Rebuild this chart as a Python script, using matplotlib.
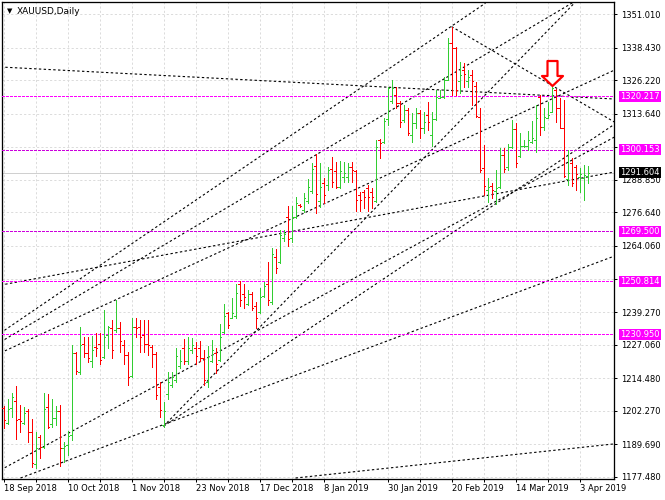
import matplotlib
matplotlib.use('Agg')
import matplotlib.pyplot as plt
import numpy as np
from matplotlib.collections import LineCollection
from matplotlib.path import Path
from matplotlib import transforms

# daily OHLC, XAUUSD, 18 Sep 2018 .. 5 Apr 2019
opens = [1203.2, 1197.9, 1203.2, 1205.9, 1199.2, 1197.9, 1202.2, 1194.3, 1182.3, 1192.3,
         1188.8, 1203.6, 1197.5, 1199.7, 1202.3, 1188.2, 1189.4, 1193.2, 1223.8, 1216.9,
         1227.2, 1223.8, 1220.9, 1226.3, 1227.5, 1222.3, 1230.7, 1233.2, 1232.5, 1233.4,
         1226.9, 1223.2, 1215.4, 1233.8, 1233.8, 1230.7, 1227.5, 1226.3, 1223.5, 1211.3,
         1196.9, 1208.5, 1212.0, 1214.0, 1219.0, 1226.0, 1221.0, 1225.0, 1226.0, 1226.0,
         1222.0, 1213.0, 1221.0, 1224.0, 1221.5, 1232.0, 1239.0, 1237.0, 1238.0, 1250.0,
         1246.0, 1242.5, 1246.0, 1241.5, 1239.5, 1245.5, 1250.0, 1243.0, 1260.0, 1258.0,
         1267.0, 1275.0, 1267.0, 1275.0, 1279.5, 1277.5, 1281.0, 1284.5, 1294.0, 1281.0,
         1287.5, 1287.0, 1293.0, 1292.0, 1286.1, 1290.0, 1290.0, 1293.8, 1292.0, 1283.2,
         1284.4, 1285.7, 1284.4, 1280.9, 1303.8, 1303.2, 1311.7, 1318.4, 1320.7, 1317.5,
         1311.3, 1315.0, 1305.7, 1310.0, 1313.8, 1308.2, 1313.2, 1305.7, 1311.7, 1319.7,
         1320.0, 1326.3, 1340.0, 1338.1, 1326.0, 1330.0, 1326.0, 1328.0, 1324.0, 1312.5,
         1293.2, 1285.0, 1286.5, 1284.5, 1286.3, 1298.2, 1293.5, 1301.3, 1307.8, 1297.7,
         1301.5, 1301.5, 1303.2, 1303.8, 1320.0, 1308.8, 1312.0, 1314.4, 1322.5, 1315.7,
         1308.2, 1289.0, 1295.0, 1293.8, 1290.0, 1289.5, 1290.3]
highs = [1204.0, 1206.9, 1209.0, 1211.7, 1204.4, 1203.8, 1202.9, 1199.2, 1194.4, 1193.2,
         1208.8, 1208.5, 1206.9, 1204.2, 1204.4, 1190.7, 1194.8, 1226.9, 1224.4, 1233.8,
         1230.0, 1230.0, 1230.3, 1231.3, 1231.3, 1240.0, 1234.0, 1236.3, 1243.8, 1235.7,
         1228.8, 1224.4, 1236.9, 1236.9, 1236.3, 1236.3, 1236.3, 1226.9, 1224.4, 1213.2,
         1205.7, 1216.9, 1216.9, 1225.7, 1225.0, 1229.2, 1230.0, 1229.4, 1228.2, 1228.4,
         1225.0, 1226.5, 1229.0, 1225.7, 1235.0, 1242.5, 1239.4, 1244.4, 1250.0, 1250.9,
         1249.7, 1247.5, 1246.9, 1243.2, 1248.2, 1250.7, 1258.2, 1263.2, 1262.8, 1270.0,
         1270.0, 1279.0, 1279.0, 1282.3, 1279.7, 1284.0, 1289.0, 1295.0, 1298.5, 1295.0,
         1289.4, 1293.8, 1297.3, 1295.7, 1296.0, 1295.7, 1295.1, 1295.7, 1292.6, 1284.4,
         1285.1, 1286.9, 1285.7, 1303.8, 1304.2, 1311.9, 1323.8, 1326.3, 1323.8, 1318.4,
         1316.9, 1315.7, 1313.8, 1315.7, 1315.0, 1314.4, 1317.9, 1314.4, 1322.5, 1322.5,
         1327.5, 1341.9, 1346.3, 1338.8, 1333.1, 1332.5, 1330.0, 1330.0, 1325.7, 1315.7,
         1301.9, 1289.7, 1287.5, 1292.5, 1300.7, 1300.7, 1302.3, 1311.3, 1310.3, 1306.5,
         1303.8, 1307.3, 1311.0, 1316.9, 1320.7, 1315.7, 1318.2, 1324.0, 1322.8, 1319.4,
         1318.8, 1300.0, 1296.9, 1294.4, 1293.2, 1294.4, 1294.0]
lows = [1195.9, 1197.5, 1200.0, 1191.7, 1194.4, 1197.2, 1190.7, 1181.3, 1180.9, 1184.7,
        1188.4, 1195.7, 1196.3, 1196.9, 1181.7, 1183.2, 1185.7, 1191.3, 1215.9, 1215.9,
        1222.5, 1220.6, 1218.8, 1222.8, 1219.8, 1221.9, 1225.7, 1221.9, 1231.9, 1224.4,
        1220.0, 1211.9, 1215.0, 1230.0, 1224.4, 1224.4, 1223.2, 1218.8, 1206.9, 1200.0,
        1196.3, 1206.9, 1211.3, 1213.2, 1218.2, 1220.0, 1220.0, 1223.8, 1220.0, 1221.0,
        1212.0, 1211.3, 1220.7, 1216.6, 1221.0, 1231.3, 1233.5, 1236.9, 1236.9, 1241.7,
        1240.7, 1241.9, 1240.0, 1233.2, 1238.8, 1245.0, 1241.9, 1242.5, 1253.8, 1257.5,
        1266.0, 1264.0, 1265.7, 1274.4, 1278.5, 1276.9, 1280.0, 1283.8, 1276.5, 1278.8,
        1280.1, 1285.1, 1286.1, 1285.7, 1285.7, 1288.2, 1288.2, 1288.2, 1277.0, 1277.0,
        1278.2, 1277.0, 1278.2, 1280.7, 1296.9, 1302.6, 1309.4, 1317.5, 1315.7, 1308.8,
        1310.7, 1305.7, 1303.2, 1308.2, 1304.4, 1306.3, 1307.5, 1301.7, 1311.3, 1319.4,
        1319.4, 1326.3, 1320.7, 1320.7, 1321.3, 1323.8, 1323.5, 1316.9, 1312.5, 1291.9,
        1283.2, 1280.7, 1281.9, 1279.8, 1285.7, 1291.9, 1292.5, 1300.7, 1293.8, 1297.5,
        1301.3, 1300.0, 1302.5, 1299.4, 1305.7, 1307.5, 1311.9, 1314.4, 1310.7, 1308.2,
        1290.0, 1286.9, 1286.5, 1285.0, 1284.4, 1281.3, 1287.5]
closes = [1198.8, 1202.9, 1207.3, 1198.8, 1198.4, 1201.3, 1194.3, 1182.9, 1188.2, 1188.8,
          1202.9, 1196.3, 1199.7, 1202.2, 1188.2, 1189.2, 1192.9, 1223.8, 1217.2, 1226.9,
          1223.8, 1222.2, 1225.0, 1225.7, 1221.3, 1230.0, 1233.8, 1225.0, 1233.2, 1228.4,
          1223.2, 1215.0, 1233.8, 1233.2, 1230.0, 1227.2, 1226.9, 1223.5, 1208.4, 1202.6,
          1202.2, 1213.0, 1215.0, 1223.0, 1221.0, 1221.0, 1226.0, 1227.0, 1223.0, 1222.0,
          1214.0, 1223.0, 1225.0, 1220.0, 1230.0, 1238.0, 1234.5, 1239.0, 1246.5, 1243.7,
          1245.0, 1246.0, 1241.0, 1237.0, 1245.0, 1249.0, 1244.0, 1261.0, 1256.0, 1268.0,
          1268.5, 1266.5, 1275.0, 1280.0, 1279.0, 1282.0, 1286.0, 1293.0, 1283.5, 1286.0,
          1283.2, 1292.6, 1288.0, 1286.3, 1292.0, 1291.3, 1293.8, 1292.6, 1281.3, 1281.3,
          1282.6, 1282.6, 1282.6, 1301.3, 1302.6, 1311.0, 1323.2, 1323.4, 1317.5, 1310.7,
          1315.0, 1306.3, 1310.0, 1313.8, 1308.2, 1310.7, 1310.7, 1311.7, 1320.0, 1320.0,
          1326.3, 1340.0, 1338.1, 1322.5, 1328.2, 1328.5, 1327.5, 1326.0, 1312.8, 1292.6,
          1286.5, 1286.3, 1285.0, 1285.7, 1298.2, 1293.0, 1301.3, 1307.8, 1295.3, 1301.5,
          1301.6, 1303.8, 1304.5, 1311.9, 1308.8, 1312.5, 1313.0, 1323.2, 1315.7, 1308.2,
          1290.3, 1291.5, 1287.5, 1291.0, 1291.0, 1290.5, 1291.6]

date_labels = ['18 Sep 2018', '10 Oct 2018', '1 Nov 2018', '23 Nov 2018', '17 Dec 2018',
               '8 Jan 2019', '30 Jan 2019', '20 Feb 2019', '14 Mar 2019', '3 Apr 2019']
price_ticks = [1351.010, 1338.430, 1326.220, 1313.640, 1301.060, 1288.850, 1276.640,
               1264.060, 1251.850, 1239.270, 1227.060, 1214.480, 1202.270, 1189.690, 1177.480]
hidden_ticks = [1301.060, 1251.850]
levels = [1320.217, 1300.153, 1269.500, 1250.814, 1230.950]
level_colors = ['#ff00ff', '#cc00dd', '#cc00dd', '#ff00ff', '#ff00ff']
bid = 1291.604

# hand-drawn trendlines: (bar, price) -> (bar, price)
trend_bar0 = [-0.75, 112, -0.75, -0.75, -0.75, -0.75, -0.75, 4.25, 73, 40, 40]
trend_px0 = [1331.15, 1346.3, 1231.45, 1228.1, 1224.0, 1249.4, 1180.1, 1177.1, 1177.1, 1196.5, 1196.5]
trend_bar1 = [152.75, 152.75, 120.5, 143, 152.75, 152.75, 152.75, 152.75, 152.75, 143.5, 152.75]
trend_px1 = [1319.15, 1310.5, 1355.1, 1355.9, 1330.0, 1291.8, 1304.9, 1260.3, 1189.9, 1356.3, 1309.7]

arrow_bar = 137

px = 72 / 100  # one pixel in points

fig = plt.figure(figsize=(6.65, 5), dpi=100)
ax = fig.add_axes([2 / 665, 21 / 500, 612 / 665, 477 / 500])
# half-pixel shift so every bar sits on a pixel column centre
ax.set_xlim(-0.375, 152.625)
ax.set_ylim(1176.73, 1355.51)

n = len(opens)
idx = np.arange(n)
up_col, dn_col = '#32cd32', '#ff0000'
segs, cols = [], []
for i in idx:
    c = up_col if closes[i] >= opens[i] else dn_col
    segs += [[(i, lows[i]), (i, highs[i])],
             [(i - 0.375, opens[i]), (i, opens[i])],
             [(i, closes[i]), (i + 0.375, closes[i])]]
    cols += [c, c, c]
bars = LineCollection(segs, colors=cols, linewidths=px, antialiaseds=False,
                      capstyle='butt', zorder=4)
ax.add_collection(bars)

# trendlines
for b0, p0, b1, p1 in zip(trend_bar0, trend_px0, trend_bar1, trend_px1):
    ax.plot([b0, b1], [p0, p1], color='black', lw=0.8, linestyle=(0, (3 * px, 3 * px)), zorder=3)

# horizontal levels
for lv, lc in zip(levels, level_colors):
    ax.axhline(lv, color=lc, lw=px, linestyle=(0, (4 * px, 2.5 * px)), zorder=3,
               antialiased=False)
ax.axhline(bid, color='#d0d0d0', lw=px, zorder=2, antialiased=False)

# grid / axes
ax.set_axisbelow(True)
ax.set_yticks(price_ticks)
ax.set_yticklabels(['' if v in hidden_ticks else f'{v:.3f}' for v in price_ticks])
ax.yaxis.tick_right()
ax.set_xticks(np.arange(0, n, 16))
ax.set_xticklabels(date_labels, ha='left')
ax.set_xticks(np.arange(8, n, 16), minor=True)
ax.grid(True, which='both', axis='x', color='#dcdcdc', lw=px, linestyle=(0, (3 * px, 3 * px)))
ax.grid(True, which='major', axis='y', color='#dcdcdc', lw=px, linestyle=(0, (3 * px, 3 * px)))
ax.tick_params(axis='y', length=3 * px, width=px, pad=4.5 * px, labelsize=6, colors='black')
ax.tick_params(axis='x', which='both', length=3 * px, width=px, pad=1.5, labelsize=6)
for s in ax.spines.values():
    s.set_linewidth(px * 1.3)
    s.set_color('black')

# price labels on the right scale
blend = transforms.blended_transform_factory(ax.transAxes, ax.transData)
lab_tr = transforms.offset_copy(blend, fig=fig, x=6 * px, y=0, units='points')
for lv in levels:
    ax.text(1, lv, f'{lv:.3f}', transform=lab_tr, fontsize=6, color='white', va='center', ha='left',
            clip_on=False, zorder=6, bbox=dict(boxstyle='square,pad=0.12', fc='#ff00ff', ec='none'))
ax.text(1, bid, f'{bid:.3f}', transform=lab_tr, fontsize=6, color='white', va='center', ha='left',
        clip_on=False, zorder=7, bbox=dict(boxstyle='square,pad=0.12', fc='black', ec='none'))

# hollow red arrow over the marked bar
arrow = Path([(-0.2, 0.5), (0.2, 0.5), (0.2, -0.1), (0.42, -0.1), (0, -0.5),
              (-0.42, -0.1), (-0.2, -0.1), (-0.2, 0.5)], closed=True)
arr_tr = transforms.offset_copy(ax.transData, fig=fig, x=0, y=9.5, units='points')
ax.plot([arrow_bar], [highs[arrow_bar]], marker=arrow, markersize=18, markerfacecolor='white',
        markeredgecolor='#ff0000', markeredgewidth=1.6, transform=arr_tr, zorder=8, clip_on=False)

fig.text(7 / 665, 1 - 11 / 500, '\u25bc', fontsize=5, va='center', ha='left')
fig.text(17 / 665, 1 - 11 / 500, 'XAUUSD,Daily', fontsize=6.5, va='center', ha='left')

fig.savefig('out.png', dpi=100, facecolor='white')
